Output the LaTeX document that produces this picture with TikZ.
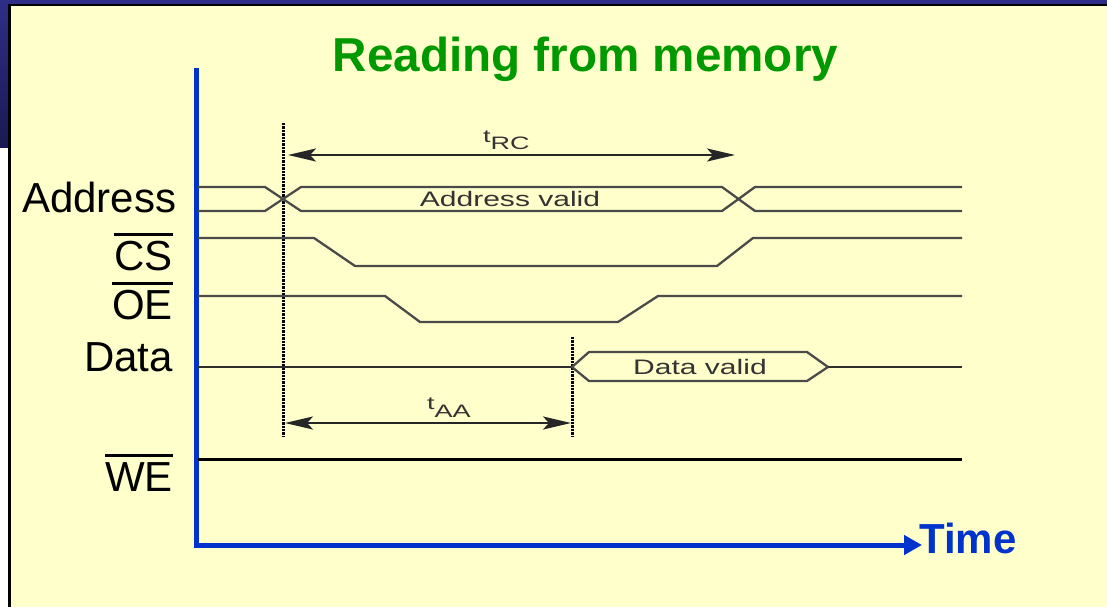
\documentclass[tikz,border=0pt]{standalone}
\usepackage{fontspec}
\setmainfont{Liberation Sans}
\usetikzlibrary{arrows.meta}
\definecolor{bgyellow}{HTML}{FFFFCC}
\definecolor{navytop}{HTML}{2E2E88}
\definecolor{navydark}{HTML}{1A1A52}
\definecolor{axisblue}{HTML}{0033CC}
\definecolor{titlegreen}{HTML}{009900}
\definecolor{sig}{HTML}{4A4A4A}
\definecolor{txtdark}{HTML}{333333}
\newcommand\ovbar[1]{\setbox0\hbox{#1}\rlap{\rule[\dimexpr\ht0+5pt\relax]{\wd0}{3pt}}\box0}
\newcommand\widetxt[1]{\scalebox{1.43}[1]{#1}}
\newcommand\tsub[1]{\scalebox{1.5}[1]{t\raisebox{-8pt}{#1}}}
\begin{document}
\begin{tikzpicture}[x=1pt,y=-1pt,
  sigline/.style={draw=sig,line width=2.3pt,line join=round},
  lbl/.style={font=\fontsize{42}{48}\selectfont,anchor=base east,inner sep=0pt},
  small/.style={font=\fontsize{21}{24}\selectfont,text=txtdark,inner sep=0pt},
  tiny/.style={font=\fontsize{18}{20}\selectfont,text=txtdark,inner sep=0pt,anchor=base west},
  dotln/.style={draw=black,line width=3pt,dash pattern=on 2.4pt off 1pt},
  dimarrow/.style={draw=black!85,line width=2.4pt,{Stealth[length=28pt,width=13pt,inset=6pt]}-{Stealth[length=28pt,width=13pt,inset=6pt]}}]
\useasboundingbox (0,0) rectangle (1107,607);
% background
\fill[white] (0,0) rectangle (1107,607);
\shade[top color=navytop,bottom color=navydark] (0,0) rectangle (9,147);
\fill[navytop] (0,0) rectangle (1107,5);
\fill[bgyellow] (9,5) rectangle (1107,607);
\draw[black,line width=2.5pt] (9.25,607) -- (9.25,5.25) -- (1107,5.25);
% title
\node[font=\fontsize{47.6}{56}\selectfont\bfseries,text=titlegreen,anchor=base,inner sep=0pt] (title) at (585.5,72) {Reading from memory};
% axes
\coordinate (axtop) at (196,68);
\coordinate (origin) at (196,545);
\coordinate (axtip) at (922,545);
\draw[axisblue,line width=5pt,-{Triangle[length=18pt,width=19pt]}] (axtop) -- (origin) -- (axtip);
\node[font=\fontsize{42}{48}\selectfont\bfseries,text=axisblue,anchor=base west,inner sep=0pt] (time) at (919,553) {Time};
% signal labels
\node[lbl] (laddr) at (176.5,212) {Address};
\node[lbl] (lcs) at (173,270) {\ovbar{CS}};
\node[lbl] (loe) at (173,319) {\ovbar{OE}};
\node[lbl] (ldata) at (173,371) {Data};
\node[lbl] (lwe) at (173,491) {\ovbar{WE}};
% dotted reference lines
\coordinate (d1top) at (283,123);
\coordinate (d1bot) at (283,437);
\coordinate (d2top) at (572,337);
\coordinate (d2bot) at (572,437);
\draw[dotln] (d1top) -- (d1bot);
\draw[dotln] (d2top) -- (d2bot);
% Address
\draw[sigline] (198,187) -- (265,187) -- (301,211) -- (722,211) -- (755,187) -- (962,187);
\draw[sigline] (198,211) -- (265,211) -- (301,187) -- (722,187) -- (755,211) -- (962,211);
\node[small] (addrvalid) at (510,199) {\widetxt{Address valid}};
% CS
\draw[sigline] (198,238) -- (314,238) -- (355,266) -- (717,266) -- (753,238) -- (962,238);
% OE
\draw[sigline] (198,296) -- (385,296) -- (420,322) -- (618,322) -- (658,296) -- (962,296);
% Data
\draw[draw=black!82,line width=2.6pt] (198,367) -- (572,367);
\draw[sigline] (572,367) -- (589,352) -- (807,352) -- (828,367) -- (807,381) -- (589,381) -- cycle;
\draw[draw=black!82,line width=2.6pt] (828,367) -- (962,367);
\node[small] (datavalid) at (700,366.5) {\widetxt{Data valid}};
% WE
\draw[black,line width=3pt] (198,459) -- (962,459);
% timing arrows
\coordinate (rcl) at (288,155);
\coordinate (rcr) at (735,155);
\draw[dimarrow] (rcl) -- (rcr);
\node[tiny] (trc) at (483,142) {\tsub{RC}};
\coordinate (aal) at (285,423);
\coordinate (aar) at (571,423);
\draw[dimarrow] (aal) -- (aar);
\node[tiny] (taa) at (427,409) {\tsub{AA}};
\end{tikzpicture}
\end{document}
